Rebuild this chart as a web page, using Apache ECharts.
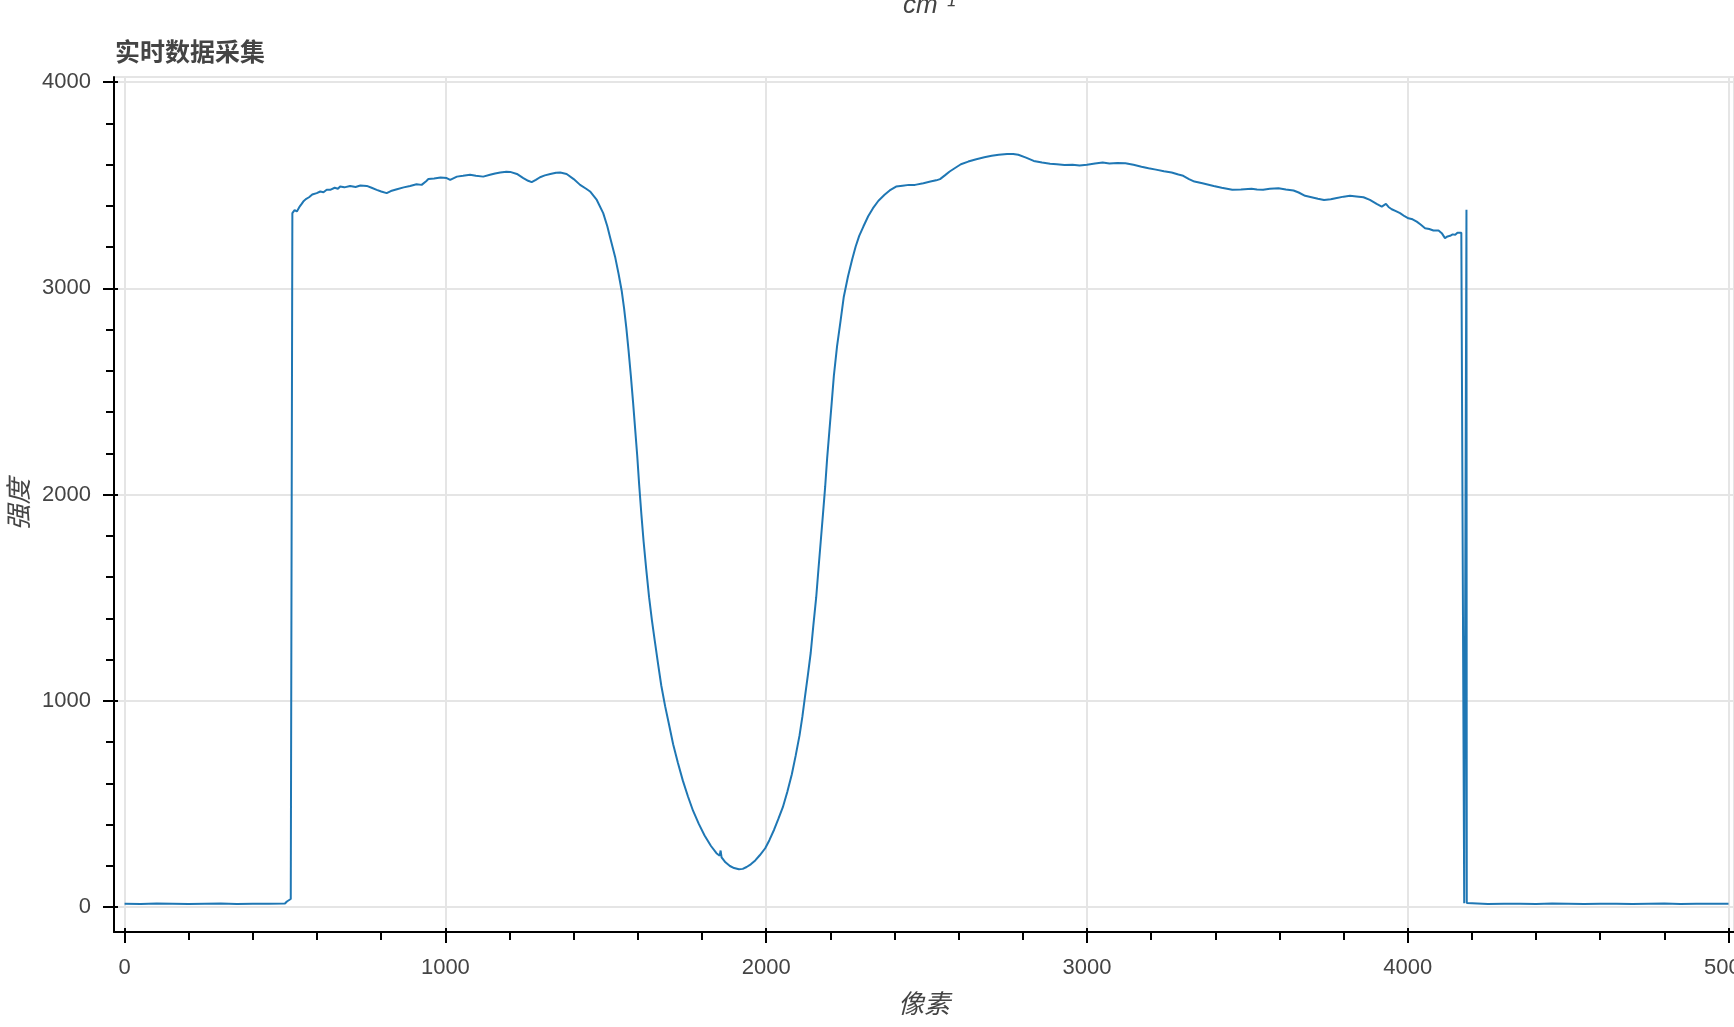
<!DOCTYPE html>
<html>
<head>
<meta charset="utf-8">
<script src="https://cdn.jsdelivr.net/npm/echarts@6/dist/echarts.min.js"></script>
<style>
html,body{margin:0;padding:0;background:#fff;}
#chart{width:1734px;height:1027px;}
</style>
</head>
<body>
<div id="chart"></div>
<script>
// ---- data ----
const pixelIndex = [
  0, 50, 100, 150, 200, 250, 300, 350, 400, 450, 500, 506, 512, 518, 521,
  523, 530, 537, 545, 552, 557, 565, 575, 585, 599, 610, 620, 630, 641, 655, 665, 672, 685,
  703, 720, 735, 755, 770, 786, 800, 817, 830, 849, 870, 890, 910, 926, 940, 947, 965, 985,
  1004, 1015, 1036, 1055, 1077, 1095, 1118, 1139, 1155, 1171, 1190, 1202, 1223, 1243, 1258,
  1269, 1282, 1295, 1310, 1327, 1345, 1358, 1378, 1400, 1420, 1440, 1451, 1472, 1492, 1505,
  1513, 1529, 1540, 1550, 1557, 1564, 1571, 1578, 1585, 1591, 1598, 1604, 1611, 1618, 1626, 1635,
  1644, 1653, 1663, 1673, 1685, 1697, 1710, 1725, 1740, 1756, 1772, 1790, 1808, 1828, 1845,
  1855, 1858, 1861, 1873, 1887, 1900, 1915, 1927, 1939, 1952, 1966, 1980, 1997, 2010, 2025,
  2038, 2052, 2066, 2080, 2092, 2104, 2113, 2121, 2130, 2139, 2147, 2156, 2163, 2170, 2177,
  2184, 2190, 2197, 2204, 2211, 2221, 2232, 2242, 2255, 2268, 2279, 2290, 2303, 2318, 2333,
  2350, 2369, 2385, 2405, 2425, 2445, 2464, 2490, 2512, 2530, 2542, 2557, 2572, 2590, 2607,
  2630, 2655, 2680, 2703, 2725, 2751, 2770, 2786, 2810, 2834, 2860, 2885, 2906, 2930, 2955,
  2977, 3000, 3025, 3049, 3070, 3095, 3120, 3145, 3170, 3192, 3215, 3240, 3264, 3285, 3300,
  3318, 3335, 3360, 3395, 3420, 3453, 3480, 3513, 3530, 3549, 3570, 3597, 3620, 3644, 3660,
  3680, 3700, 3720, 3739, 3760, 3775, 3800, 3820, 3840, 3862, 3882, 3903, 3919, 3932, 3940,
  3950, 3963, 3976, 3990, 4002, 4015, 4028, 4040, 4054, 4067, 4080, 4096, 4106, 4112, 4116,
  4124, 4132, 4140, 4148, 4155, 4161, 4167, 4173, 4176, 4182, 4183, 4184, 4186,
  4250, 4300, 4350, 4400, 4450, 4500, 4550, 4600, 4650, 4700, 4750, 4800, 4850, 4900, 4950, 5000
];
const intensity = [
  17, 16, 18, 17, 16, 17, 18, 16, 17, 17, 18, 28, 36, 40, 42,
  3365, 3380, 3373, 3395, 3410, 3421, 3433, 3442, 3455, 3462, 3470, 3466, 3478, 3478, 3488, 3483, 3494, 3490,
  3497, 3492, 3499, 3497, 3488, 3478, 3470, 3462, 3472, 3481, 3490, 3497, 3505, 3502, 3520, 3530, 3533, 3538,
  3535, 3526, 3542, 3546, 3551, 3546, 3542, 3551, 3557, 3562, 3566, 3565, 3555, 3535, 3522,
  3515, 3526, 3539, 3548, 3555, 3561, 3562, 3555, 3530, 3502, 3482, 3470, 3429, 3365, 3300,
  3251, 3154, 3070, 2985, 2905, 2810, 2700, 2580, 2450, 2330, 2190, 2050, 1905, 1772, 1640, 1503,
  1390, 1289, 1180, 1075, 975, 887, 790, 699, 615, 538, 468, 404, 348, 297, 262,
  250, 275, 242, 218, 200, 190, 184, 186, 195, 208, 227, 252, 286, 325, 377,
  428, 485, 560, 645, 735, 833, 925, 1021, 1125, 1235, 1365, 1503, 1640, 1772, 1905,
  2040, 2175, 2308, 2440, 2576, 2720, 2844, 2960, 3058, 3140, 3203, 3255, 3300, 3350, 3389,
  3425, 3454, 3475, 3494, 3498, 3502, 3502, 3510, 3518, 3524, 3530, 3548, 3567, 3585, 3602,
  3615, 3626, 3636, 3643, 3648, 3652, 3652, 3648, 3634, 3618, 3610, 3605, 3602, 3598, 3600,
  3596, 3600, 3606, 3610, 3606, 3608, 3607, 3600, 3590, 3583, 3576, 3568, 3562, 3552, 3546,
  3530, 3518, 3510, 3497, 3488, 3478, 3480, 3483, 3480, 3478, 3483, 3486, 3480, 3475, 3465,
  3449, 3442, 3435, 3429, 3432, 3437, 3445, 3449, 3446, 3442, 3429, 3410, 3397, 3410, 3395,
  3384, 3375, 3365, 3350, 3340, 3335, 3324, 3310, 3292, 3288, 3281, 3281, 3268, 3260, 3244,
  3252, 3255, 3262, 3260, 3270, 3279, 3270, 3268, 20, 20, 3381, 20, 17,
  16, 17, 17, 16, 18, 17, 16, 17, 17, 16, 17, 18, 16, 17, 17, 17
];
const xMajorTicks = [0, 1000, 2000, 3000, 4000, 5000];
const xMinorTicks = [200, 400, 600, 800, 1200, 1400, 1600, 1800, 2200, 2400, 2600, 2800,
                     3200, 3400, 3600, 3800, 4200, 4400, 4600, 4800];
const yMajorTicks = [0, 1000, 2000, 3000, 4000];
const yMinorTicks = [200, 400, 600, 800, 1200, 1400, 1600, 1800, 2200, 2400, 2600, 2800,
                     3200, 3400, 3600, 3800];

const titleText = '实时数据采集';
const xName = '像素';
const yName = '强度';
const topAxisName = 'cm⁻¹';

// ---- chart ----
const FONT = '"Liberation Sans", "Noto Sans CJK SC", sans-serif';
const X_MIN = -33, X_MAX = 5017, Y_MIN = -120, Y_MAX = 4025;
const seriesData = pixelIndex.map((x, i) => [x, intensity[i]]);
const plainNumber = v => String(Math.round(v));

function hiddenAxisBase(extra) {
  return Object.assign({
    axisLine: { show: false, onZero: false },
    axisLabel: { show: false },
    splitLine: { show: false },
    minorTick: { show: false }
  }, extra);
}

const chart = echarts.init(document.getElementById('chart'), null, { renderer: 'canvas' });
chart.setOption({
  animation: false,
  backgroundColor: '#ffffff',
  title: {
    text: titleText,
    left: 115,
    top: 42,
    padding: 0,
    textStyle: { fontSize: 25, fontWeight: 'bold', color: '#444444', fontFamily: FONT }
  },
  graphic: [{
    type: 'text',
    x: 903,
    y: -7,
    style: { text: topAxisName, font: 'italic 26px ' + FONT, fill: '#444444' }
  }],
  grid: {
    left: 114, top: 77, right: 0, bottom: 95,
    show: true, borderColor: '#e5e5e5', borderWidth: 2,
    containLabel: false, outerBoundsMode: 'none'
  },
  xAxis: [
    {
      type: 'value', min: X_MIN, max: X_MAX, position: 'bottom',
      name: xName, nameLocation: 'middle', nameGap: 61, nameMoveOverlap: false,
      nameTextStyle: { fontSize: 26, fontStyle: 'italic', color: '#444444', fontFamily: FONT },
      axisLine: { show: true, onZero: false, lineStyle: { color: '#000', width: 2 } },
      axisTick: { show: true, customValues: xMajorTicks, length: 11, lineStyle: { color: '#000', width: 2 } },
      axisLabel: { show: true, customValues: xMajorTicks, formatter: plainNumber, fontSize: 22, color: '#444444', margin: 25, fontFamily: FONT },
      splitLine: { show: true, lineStyle: { color: '#e5e5e5', width: 2 } }
    },
    hiddenAxisBase({
      type: 'value', min: X_MIN, max: X_MAX, position: 'bottom',
      axisTick: { show: true, customValues: xMinorTicks, length: 8, lineStyle: { color: '#000', width: 2 } }
    }),
    hiddenAxisBase({
      type: 'value', min: X_MIN, max: X_MAX, position: 'bottom',
      axisTick: { show: true, inside: true, customValues: xMajorTicks, length: 4, lineStyle: { color: '#000', width: 2 } }
    })
  ],
  yAxis: [
    {
      type: 'value', min: Y_MIN, max: Y_MAX, position: 'left',
      name: yName, nameLocation: 'middle', nameGap: 80, nameMoveOverlap: false,
      nameTextStyle: { fontSize: 26, fontStyle: 'italic', color: '#444444', fontFamily: FONT },
      axisLine: { show: true, onZero: false, lineStyle: { color: '#000', width: 2 } },
      axisTick: { show: true, customValues: yMajorTicks, length: 11, lineStyle: { color: '#000', width: 2 } },
      axisLabel: { show: true, customValues: yMajorTicks, formatter: plainNumber, fontSize: 22, color: '#444444', margin: 23, fontFamily: FONT },
      splitLine: { show: true, lineStyle: { color: '#e5e5e5', width: 2 } }
    },
    hiddenAxisBase({
      type: 'value', min: Y_MIN, max: Y_MAX, position: 'left',
      axisTick: { show: true, customValues: yMinorTicks, length: 8, lineStyle: { color: '#000', width: 2 } }
    }),
    hiddenAxisBase({
      type: 'value', min: Y_MIN, max: Y_MAX, position: 'left',
      axisTick: { show: true, inside: true, customValues: yMajorTicks, length: 4, lineStyle: { color: '#000', width: 2 } }
    })
  ],
  series: [{
    type: 'line',
    xAxisIndex: 0,
    yAxisIndex: 0,
    data: seriesData,
    showSymbol: false,
    symbol: 'none',
    lineStyle: { color: '#1f77b4', width: 2 },
    itemStyle: { color: '#1f77b4' },
    z: 5
  }]
});
</script>
</body>
</html>
